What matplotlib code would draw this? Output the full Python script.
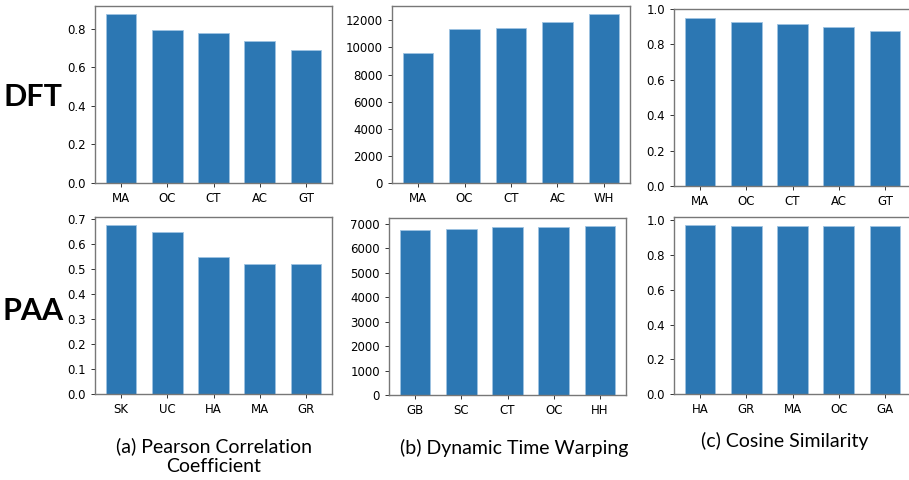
import matplotlib
matplotlib.use("Agg")
import matplotlib.pyplot as plt
from matplotlib.ticker import MultipleLocator

# Data
dft_pcc_labels = ["MA", "OC", "CT", "AC", "GT"]
dft_pcc_values = [0.874, 0.791, 0.776, 0.734, 0.692]

dft_dtw_labels = ["MA", "OC", "CT", "AC", "WH"]
dft_dtw_values = [9610, 11360, 11460, 11900, 12440]

dft_cos_labels = ["MA", "OC", "CT", "AC", "GT"]
dft_cos_values = [0.951, 0.927, 0.915, 0.900, 0.877]

paa_pcc_labels = ["SK", "UC", "HA", "MA", "GR"]
paa_pcc_values = [0.673, 0.648, 0.548, 0.520, 0.520]

paa_dtw_labels = ["GB", "SC", "CT", "OC", "HH"]
paa_dtw_values = [6767, 6807, 6861, 6889, 6902]

paa_cos_labels = ["HA", "GR", "MA", "OC", "GA"]
paa_cos_values = [0.971, 0.970, 0.969, 0.968, 0.967]

row_labels = ["DFT", "PAA"]
captions = ["(a) Pearson Correlation\nCoefficient",
            "(b) Dynamic Time Warping",
            "(c) Cosine Similarity"]

W, H = 909, 480
fig = plt.figure(figsize=(W / 100, H / 100), dpi=100)


def px_axes(left, top, right, bottom):
    return fig.add_axes([left / W, 1 - bottom / H, (right - left) / W, (bottom - top) / H])


# box in pixels, labels, values, fixed y top, tick step
panels = [
    ((95, 6, 332, 183), dft_pcc_labels, dft_pcc_values, None, 0.2),
    ((392, 6, 630, 183), dft_dtw_labels, dft_dtw_values, None, 2000),
    ((674, 9, 911, 186), dft_cos_labels, dft_cos_values, 1.0, 0.2),
    ((95, 217, 332, 394), paa_pcc_labels, paa_pcc_values, None, 0.1),
    ((389, 218, 626, 395), paa_dtw_labels, paa_dtw_values, None, 1000),
    ((674, 217, 911, 394), paa_cos_labels, paa_cos_values, None, 0.2),
]

bar_color = "#2c77b3"

for box, labels, values, ytop, step in panels:
    ax = px_axes(*box)
    ax.bar(labels, values, width=0.66, color=bar_color,
           edgecolor="#9ec3e2", linewidth=0.6)
    if ytop is not None:
        ax.set_ylim(0, ytop)
    ax.yaxis.set_major_locator(MultipleLocator(step))
    ax.tick_params(labelsize=8.5, length=3, width=0.7, color="#333333")
    for sp in ax.spines.values():
        sp.set_color("#777777")
        sp.set_linewidth(1.0)

# Row labels
fig.text(33 / W, 1 - 97 / H, row_labels[0], fontsize=22, fontweight="bold",
         family="Lato", ha="center", va="center")
fig.text(33 / W, 1 - 311 / H, row_labels[1], fontsize=22, fontweight="bold",
         family="Lato", ha="center", va="center")

# Column captions
fig.text(214 / W, 1 - 456 / H, captions[0], fontsize=14, family="Lato",
         ha="center", va="center", linespacing=1.15)
fig.text(514 / W, 1 - 448 / H, captions[1], fontsize=14, family="Lato",
         ha="center", va="center")
fig.text(785 / W, 1 - 441 / H, captions[2], fontsize=14, family="Lato",
         ha="center", va="center")

fig.savefig("out.png", dpi=100)
